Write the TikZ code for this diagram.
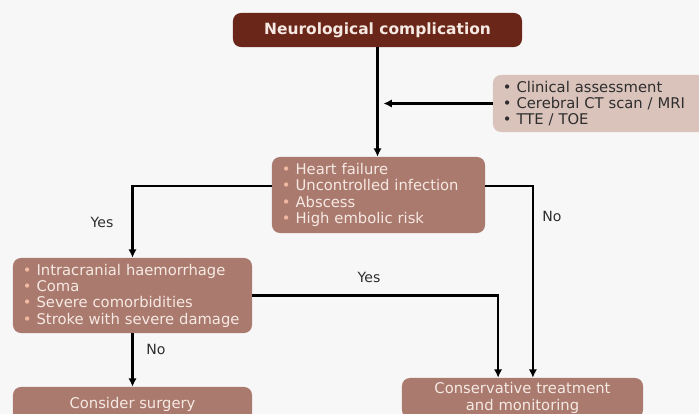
\documentclass[tikz,border=0pt]{standalone}
\usepackage{fontspec}
\setmainfont{DejaVu Sans}
\usetikzlibrary{arrows.meta}

\definecolor{titlebrown}{HTML}{6A2618}
\definecolor{boxbrown}{HTML}{AA7A6E}
\definecolor{sidepink}{HTML}{DAC3BB}
\definecolor{boxtext}{HTML}{F6E9E3}
\definecolor{bulletpink}{HTML}{F0B8A0}
\definecolor{labelgrey}{HTML}{2E2E2E}
\definecolor{backgr}{HTML}{F7F7F7}

\newcommand{\bul}{\textcolor{bulletpink}{•}\ }
\newcommand{\dbul}{•\ }

\tikzset{
  box/.style={rounded corners=0.2cm, inner xsep=0.25cm, inner ysep=0pt,
    font=\fontsize{10.5}{11.6}\selectfont},
  midbox/.style={box, fill=boxbrown, text=boxtext},
  flowline/.style={line width=1.6pt, -{Latex[length=6pt,width=6pt]}},
  answer/.style={text=labelgrey, font=\fontsize{10}{12}\selectfont}
}

\begin{document}
\begin{tikzpicture}[x=0.025cm, y=-0.025cm]
  \clip (0,0) rectangle (699,414);
  \fill[backgr] (0,0) rectangle (699,414);

  % Title box
  \node[box, fill=titlebrown, text=boxtext, minimum width=7.225cm, minimum height=0.85cm,
    font=\fontsize{11}{13}\selectfont\bfseries] (neuro) at (377.5,30) {Neurological complication};

  % Assessment box (right)
  \node[box, fill=sidepink, text=labelgrey, text width=4.8cm, minimum height=1.425cm, align=left]
    (assess) at (599,103.5)
    {\dbul Clinical assessment\\ \dbul Cerebral CT scan / MRI\\ \dbul TTE / TOE};

  % Indications box
  \node[midbox, text width=4.825cm, minimum height=1.9cm, align=left] (indic) at (378.5,195)
    {\bul Heart failure\\ \bul Uncontrolled infection\\ \bul Abscess\\ \bul High embolic risk};

  % Contraindications box
  \node[midbox, text width=5.475cm, minimum height=1.875cm, align=left] (contra) at (132.5,295.5)
    {\bul Intracranial haemorrhage\\ \bul Coma\\ \bul Severe comorbidities\\ \bul Stroke with severe damage};

  % Outcome boxes
  \node[midbox, minimum width=5.975cm, minimum height=0.85cm] (surgery) at (132.5,404)
    {Consider surgery};
  \node[midbox, text width=5.525cm, minimum height=1cm, align=center] (conserv) at (522.5,398)
    {Conservative treatment\\ and monitoring};

  % Connectors
  \draw[flowline] (neuro.south) -- (neuro.south |- indic.north);
  \draw[flowline] (assess.west) -- ([xshift=0.15cm]neuro.south |- assess.west);
  \draw[flowline] ([yshift=0.225cm]indic.west) -| (contra.north);
  \draw[flowline] ([yshift=0.225cm]indic.east) -| ([xshift=0.26cm]conserv.north);
  \draw[flowline] (contra.east) -| ([xshift=-0.61cm]conserv.north);
  \draw[flowline] (contra.south) -- (surgery.north);

  % Answers
  \node[answer] (yesleft) at (102,222) {Yes};
  \node[answer] (noright) at (552,216) {No};
  \node[answer] (yesmid) at (369,277) {Yes};
  \node[answer] (nodown) at (156,349) {No};
\end{tikzpicture}
\end{document}
